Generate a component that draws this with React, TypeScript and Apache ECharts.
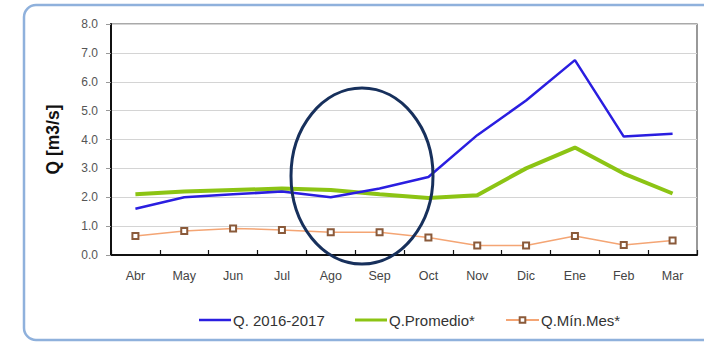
import React, { useEffect, useRef } from "react";
import * as echarts from "echarts";

const months = ["Abr", "May", "Jun", "Jul", "Ago", "Sep", "Oct", "Nov", "Dic", "Ene", "Feb", "Mar"];
const q2016 = [1.6, 2.0, 2.1, 2.2, 2.0, 2.3, 2.7, 4.15, 5.35, 6.75, 4.1, 4.2];
const qPromedio = [2.1, 2.2, 2.25, 2.3, 2.25, 2.1, 1.97, 2.07, 3.0, 3.72, 2.82, 2.13];
const qMinMes = [0.66, 0.83, 0.92, 0.87, 0.79, 0.79, 0.61, 0.33, 0.33, 0.66, 0.35, 0.5];
const seriesNames = ["Q. 2016-2017", "Q.Promedio*", "Q.Mín.Mes*"];

export default function App() {
  const ref = useRef<HTMLDivElement>(null);
  useEffect(() => {
    if (!ref.current) return;
    const chart = echarts.init(ref.current, null, { renderer: "svg" });
    const font = "Liberation Sans";
    const legendText = { fontFamily: font, fontSize: 15, color: "#333", padding: [0, 0, 0, -3] };
    chart.setOption({
      animation: false,
      backgroundColor: "#ffffff",
      textStyle: { fontFamily: font },
      grid: {
        left: 111,
        right: 7,
        top: 24,
        bottom: 89,
        show: true,
        borderColor: "#555",
        borderWidth: 1.2,
        backgroundColor: "transparent",
      },
      legend: [
        {
          left: 199,
          top: 312.5,
          padding: 0,
          icon: "rect",
          itemWidth: 32,
          itemHeight: 2.5,
          textStyle: legendText,
          data: [seriesNames[0]],
        },
        {
          left: 355,
          top: 312.5,
          padding: 0,
          icon: "rect",
          itemWidth: 32,
          itemHeight: 3,
          textStyle: legendText,
          data: [seriesNames[1]],
        },
        {
          left: 505,
          top: 312.5,
          padding: 0,
          itemWidth: 33,
          itemHeight: 7,
          textStyle: legendText,
          data: [seriesNames[2]],
        },
      ],
      xAxis: {
        type: "category",
        data: months,
        boundaryGap: true,
        axisLine: { show: true, lineStyle: { color: "#111", width: 2 } },
        axisTick: { show: true, inside: true, length: 5, lineStyle: { color: "#111", width: 1.2 } },
        axisLabel: { color: "#444", fontSize: 12.5, margin: 14, fontFamily: font },
        splitLine: { show: false },
      },
      yAxis: {
        type: "value",
        min: 0,
        max: 8,
        interval: 1,
        name: "Q [m3/s]",
        nameLocation: "middle",
        nameGap: 49,
        nameTextStyle: { fontFamily: font, fontSize: 17.5, fontWeight: "bold", color: "#111" },
        axisLine: { show: true, lineStyle: { color: "#111", width: 2 } },
        axisTick: { show: true, length: 5, lineStyle: { color: "#999" } },
        axisLabel: {
          color: "#555",
          fontSize: 12,
          margin: 13,
          fontFamily: font,
          formatter: (v: number) => v.toFixed(1),
        },
        splitLine: { show: true, lineStyle: { color: "#d4d4d4", width: 1.2 } },
      },
      series: [
        {
          name: seriesNames[0],
          type: "line",
          data: q2016,
          symbol: "none",
          lineStyle: { color: "#2a1ee0", width: 2.5 },
          itemStyle: { color: "#2a1ee0" },
          z: 3,
        },
        {
          name: seriesNames[1],
          type: "line",
          data: qPromedio,
          symbol: "none",
          lineStyle: { color: "#8cc414", width: 4 },
          itemStyle: { color: "#8cc414" },
          z: 2,
        },
        {
          name: seriesNames[2],
          type: "line",
          data: qMinMes,
          symbol: "emptyRect",
          symbolSize: 6,
          showAllSymbol: true,
          lineStyle: { color: "#f4a574", width: 1.5 },
          itemStyle: { color: "#8a5a3a", borderColor: "#8a5a3a", borderWidth: 1 },
          z: 4,
        },
      ],
      graphic: [
        {
          type: "rect",
          shape: { x: 24, y: 5, width: 700, height: 335, r: 12 },
          style: { fill: "none", stroke: "#8fb1dc", lineWidth: 2.5 },
          silent: true,
          z: 0,
        },
        {
          type: "ellipse",
          shape: { cx: 362, cy: 176, rx: 71, ry: 88 },
          style: { fill: "none", stroke: "#17305c", lineWidth: 3 },
          silent: true,
          z: 100,
        },
      ],
    });
    return () => chart.dispose();
  }, []);
  return (
    <div
      ref={ref}
      style={{ position: "fixed", left: 0, top: 0, width: 704, height: 344 }}
    />
  );
}
